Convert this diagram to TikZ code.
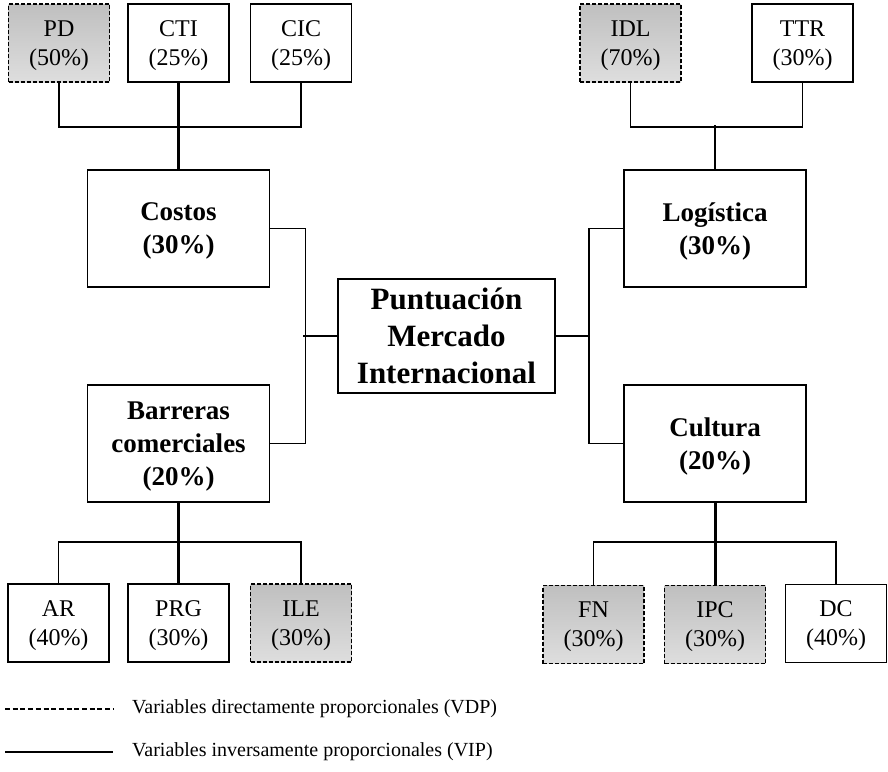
\documentclass[tikz,border=0pt]{standalone}
\usepackage{fontspec}
\setmainfont{Liberation Serif}
\usepackage{tikz}
\usetikzlibrary{positioning}

\begin{document}
\begin{tikzpicture}[
  x=1pt, y=-1pt,
  leaf/.style={
    rectangle, draw, line width=1.6pt, fill=white,
    minimum width=101pt, minimum height=78pt, inner sep=0pt,
    text depth=-2pt,
    align=center, font=\fontsize{24}{29}\selectfont
  },
  dleaf/.style={leaf, dash pattern=on 4pt off 2pt,
    top color=black!25, bottom color=black!13},
  cat/.style={
    rectangle, draw, line width=1.6pt,
    minimum width=182pt, minimum height=117pt, inner sep=0pt,
    text depth=-2pt,
    align=center, font=\bfseries\fontsize{27}{33}\selectfont
  },
  root/.style={cat, minimum width=217pt, minimum height=114pt,
    text depth=, font=\bfseries\fontsize{31}{37}\selectfont},
  link/.style={line width=1.6pt},
  tlink/.style={line width=3pt},
  legtext/.style={anchor=west, inner sep=0pt, font=\fontsize{20}{24}\selectfont}
]
\useasboundingbox (0,0) rectangle (888,771);

% top left (costs)
\node[dleaf] (pd)  at (59, 43)    {PD\\(50\%)};
\node[leaf]  (cti) at (178.5, 43) {CTI\\(25\%)};
\node[leaf]  (cic) at (301, 43)   {CIC\\(25\%)};

% top right (logistics)
\node[dleaf] (idl) at (630.5, 43) {IDL\\(70\%)};
\node[leaf]  (ttr) at (802.5, 43) {TTR\\(30\%)};

% categories
\node[cat] (costos)    at (178.5, 228.5) {Costos\\(30\%)};
\node[cat] (logistica) at (715, 228.5)   {Logística\\(30\%)};
\node[cat] (barreras)  at (178.5, 443.5) {Barreras\\comerciales\\(20\%)};
\node[cat] (cultura)   at (715, 443.5)   {Cultura\\(20\%)};

% center
\node[root] (punt) at (446.5, 336) {Puntuación\\Mercado\\Internacional};

% bottom left (barriers)
\node[leaf]  (ar)  at (58.5, 623)  {AR\\(40\%)};
\node[leaf]  (prg) at (178.5, 623) {PRG\\(30\%)};
\node[dleaf] (ile) at (301, 623)   {ILE\\(30\%)};

% bottom right (culture)
\node[dleaf] (fn)  at (593.5, 624.5) {FN\\(30\%)};
\node[dleaf] (ipc) at (715, 624.5)   {IPC\\(30\%)};
\node[leaf]  (dc)  at (836, 623.5)   {DC\\(40\%)};

% ======================
% LINKS
% ======================

% costs group
\draw[link] (pd.south) -- ++(0,44) -| (cic.south);
\draw[tlink] (cti.south) -- (costos.north);

% logistics group
\draw[link] (idl.south) -- ++(0,44) -| (ttr.south);
\draw[link] (logistica.north) -- ++(0,-44);

% left side to center
\draw[link] (costos.east) -- ++(35,0) |- (barreras.east);
\draw[link] (punt.west) -- ++(-34,0);

% right side to center
\draw[link] (logistica.west) -- ++(-34,0) |- (cultura.west);
\draw[link] (punt.east) -- ++(34,0);

% barriers group
\draw[link] (ar.north) -- ++(0,-41) -| (ile.north);
\draw[tlink] (barreras.south) -- (prg.north);

% culture group
\draw[link] (fn.north) -- ++(0,-43) -| (dc.north);
\draw[tlink] (cultura.south) -- (ipc.north);

% legend
\node[legtext] (vdp) at (132, 709) {Variables directamente proporcionales (VDP)};
\node[legtext] (vip) at (132, 752) {Variables inversamente proporcionales (VIP)};
\coordinate (vdpend) at (5, 709);
\coordinate (vipend) at (5, 752);
\draw[line width=1.2pt, dash pattern=on 5pt off 2.7pt] (vdpend) -- ([xshift=-19pt]vdp.west);
\draw[line width=1.8pt] (vipend) -- ([xshift=-19pt]vip.west);

\end{tikzpicture}
\end{document}
